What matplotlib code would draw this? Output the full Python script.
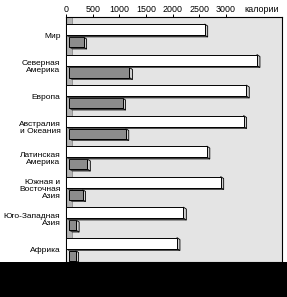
import numpy as np
import matplotlib.pyplot as plt
from matplotlib.patches import Polygon, Rectangle
from matplotlib.transforms import blended_transform_factory

plt.rcParams['font.family'] = ['Liberation Sans', 'DejaVu Sans']

regions = ['Мир', 'Северная\nАмерика', 'Европа', 'Австралия\nи Океания',
           'Латинская\nАмерика', 'Южная и\nВосточная\nАзия', 'Юго-Западная\nАзия', 'Африка']
total = [2600, 3580, 3380, 3330, 2640, 2900, 2200, 2080]
animal = [330, 1190, 1060, 1120, 400, 310, 190, 180]
fish = [110, 110, 110, 110, 110, 110, 110, 110]
ticks = [0, 500, 1000, 1500, 2000, 2500, 3000]

W, H = 287, 297
fig = plt.figure(figsize=(W / 100, H / 100), dpi=100)
ax = fig.add_axes([66 / W, 1 - 262 / H, (282 - 66) / W, (262 - 17) / H])
ax.set_facecolor('#e4e4e4')

xmax = 4050
px_x = xmax / (282 - 66)      # data units per pixel (x)
px_y = 1 / 30.5               # data units per pixel (y)
dx, dy = 3 * px_x, 2 * px_y


def bar3d(y, left, width, h, color, z):
    x0, x1 = left, left + width
    top, bot = y - h / 2, y + h / 2
    # bottom face
    ax.add_patch(Polygon([(x0, bot), (x1, bot), (x1 + dx, bot + dy), (x0 + dx, bot + dy)],
                         closed=True, facecolor='#3a3a3a', edgecolor='#3a3a3a', lw=0.5, zorder=z))
    # side face
    ax.add_patch(Polygon([(x1, top), (x1 + dx, top + dy), (x1 + dx, bot + dy), (x1, bot)],
                         closed=True, facecolor='#d0d0d0', edgecolor='black', lw=0.6, zorder=z))
    ax.add_patch(Rectangle((x0, top), width, h, facecolor=color, edgecolor='black', lw=0.7, zorder=z + 0.1))


for i, (t, a, f) in enumerate(zip(total, animal, fish)):
    # light grey strip above each white bar
    ax.add_patch(Rectangle((0, i - 0.18 - 0.66), f, 0.66, facecolor='#b4b4b4',
                           edgecolor='#808080', lw=0.5, zorder=1))
    bar3d(i, 0, t, 0.36, 'white', 3)
    bar3d(i + 0.41, 60, a - 60, 0.33, '#8c8c8c', 2)

ax.set_xlim(0, xmax)
ax.set_ylim(7.62, -0.41)
ax.xaxis.tick_top()
ax.set_xticks(ticks)
ax.set_xticklabels([str(v) for v in ticks], fontsize=6.4)
ax.tick_params(axis='x', length=2, width=0.7, pad=0)
ax.set_yticks(np.arange(len(regions)) + 0.2)
ax.set_yticklabels(regions, fontsize=6.0, linespacing=1.0)
ax.tick_params(axis='y', length=0, pad=4)
for s in ax.spines.values():
    s.set_linewidth(0.8)
    s.set_color('black')

tr = blended_transform_factory(ax.transData, ax.transAxes)
ax.text(3670, 1.0 + 2.8 / 245, 'калории', transform=tr, fontsize=6.4, ha='center', va='bottom')

# black band at the bottom
fig.patches.append(Rectangle((0, 0), 1, 1 - 262 / H, transform=fig.transFigure,
                             facecolor='black', edgecolor='none', zorder=10))

fig.savefig('out.png', dpi=100)
